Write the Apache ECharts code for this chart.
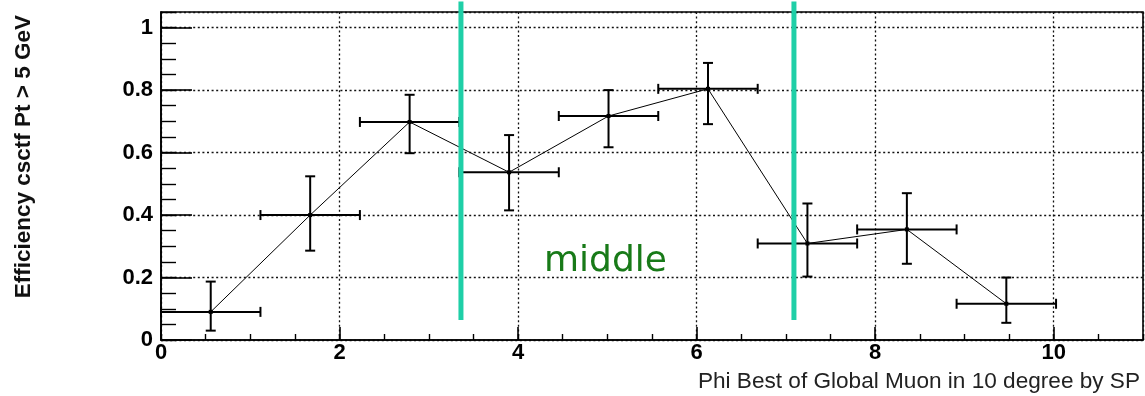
<!DOCTYPE html>
<html>
<head>
<meta charset="utf-8">
<script src="https://cdn.jsdelivr.net/npm/echarts@6/dist/echarts.min.js"></script>
<style>
  html, body { margin: 0; padding: 0; background: #fff; }
  #chart { width: 1145px; height: 396px; }
</style>
</head>
<body>
<div id="chart"></div>
<script>
// Phi bins (units of 10 degrees) and the measured efficiency per bin
const binCenters  = [0.557, 1.671, 2.785, 3.899, 5.013, 6.127, 7.241, 8.355, 9.469];
const binLow      = [0.000, 1.114, 2.228, 3.342, 4.456, 5.570, 6.684, 7.798, 8.912];
const binHigh     = [1.114, 2.228, 3.342, 4.456, 5.570, 6.684, 7.798, 8.912, 10.026];
const efficiency  = [0.090, 0.400, 0.698, 0.537, 0.717, 0.804, 0.309, 0.354, 0.116];
const effLow      = [0.030, 0.286, 0.598, 0.415, 0.617, 0.691, 0.203, 0.244, 0.055];
const effHigh     = [0.187, 0.524, 0.785, 0.656, 0.800, 0.887, 0.437, 0.470, 0.200];

// Boundaries of the "middle" phi region
const regionEdges = [3.36, 7.09];
const regionLabel = 'middle';

const xTitle = 'Phi Best of Global Muon in 10 degree by SP';
const yTitle = 'Efficiency csctf Pt > 5 GeV';

const points = binCenters.map((x, i) => [x, efficiency[i]]);
const errors = binCenters.map((x, i) => [x, efficiency[i], binLow[i], binHigh[i], effLow[i], effHigh[i]]);

const black = '#000';
const labelFont = { color: black, fontFamily: 'Liberation Sans', fontWeight: 'bold', fontSize: 22 };
const dotted = { type: [2, 2.6], color: '#111', width: 1.3 };

const chart = echarts.init(document.getElementById('chart'), null, { renderer: 'canvas' });

chart.setOption({
  animation: false,
  backgroundColor: '#fff',
  grid: { left: 161, right: 2, top: 12, bottom: 56, show: true, borderColor: black, borderWidth: 1.6, backgroundColor: 'transparent' },
  xAxis: [
    {
      type: 'value', min: 0, max: 11, interval: 2,
      axisLine: { lineStyle: { color: black, width: 1.6 } },
      axisTick: { inside: true, length: 13, lineStyle: { color: black, width: 1.6 } },
      axisLabel: Object.assign({ margin: 2, showMaxLabel: false }, labelFont),
      splitLine: { show: true, lineStyle: dotted }
    },
    {
      type: 'value', min: 0, max: 11, interval: 0.5, position: 'bottom',
      axisLine: { show: false },
      axisTick: { inside: true, length: 6, lineStyle: { color: black, width: 1.4 } },
      axisLabel: { show: false },
      splitLine: { show: false }
    }
  ],
  yAxis: [
    {
      type: 'value', min: 0, max: 1.05, interval: 0.2,
      axisLine: { show: true, lineStyle: { color: black, width: 1.6 } },
      axisTick: { show: true, inside: true, length: 31, lineStyle: { color: black, width: 1.6 } },
      axisLabel: Object.assign({ margin: 8, showMaxLabel: false }, labelFont),
      splitLine: { show: true, lineStyle: dotted }
    },
    {
      type: 'value', min: 0, max: 1.05, interval: 0.05, position: 'left',
      axisLine: { show: false },
      axisTick: { show: true, inside: true, length: 15, lineStyle: { color: black, width: 1.4 } },
      axisLabel: { show: false },
      splitLine: { show: false }
    }
  ],
  series: [
    {
      type: 'line',
      data: points,
      symbol: 'rect',
      symbolSize: 4,
      itemStyle: { color: black },
      lineStyle: { color: black, width: 1 },
      z: 3
    },
    {
      type: 'custom',
      data: errors,
      z: 4,
      renderItem: function (params, api) {
        const x = api.value(0), y = api.value(1);
        const pl = api.coord([api.value(2), y]);
        const pr = api.coord([api.value(3), y]);
        const pb = api.coord([x, api.value(4)]);
        const pt = api.coord([x, api.value(5)]);
        const cap = 5;
        const st = { stroke: black, lineWidth: 2 };
        const seg = (x1, y1, x2, y2) => ({ type: 'line', shape: { x1, y1, x2, y2 }, style: st });
        return {
          type: 'group',
          children: [
            seg(pl[0], pl[1], pr[0], pr[1]),
            seg(pl[0], pl[1] - cap, pl[0], pl[1] + cap),
            seg(pr[0], pr[1] - cap, pr[0], pr[1] + cap),
            seg(pb[0], pb[1], pt[0], pt[1]),
            seg(pb[0] - cap, pb[1], pb[0] + cap, pb[1]),
            seg(pt[0] - cap, pt[1], pt[0] + cap, pt[1])
          ]
        };
      }
    },
    {
      type: 'custom',
      data: regionEdges.map(x => [x]),
      clip: false,
      z: 10,
      renderItem: function (params, api) {
        const x = api.value(0);
        const lo = api.coord([x, 0.064]);
        const hi = api.coord([x, 1.084]);
        return {
          type: 'line',
          shape: { x1: lo[0], y1: lo[1], x2: hi[0], y2: hi[1] },
          style: { stroke: '#1fcfa7', lineWidth: 5 }
        };
      }
    }
  ],
  graphic: [
    {
      type: 'text', x: 24, y: 15, rotation: Math.PI / 2,
      style: { text: yTitle, align: 'right', verticalAlign: 'middle', fill: '#111',
               fontFamily: 'Liberation Sans', fontWeight: 'bold', fontSize: 22.5 }
    },
    {
      type: 'text', x: 1140, y: 382,
      style: { text: xTitle, align: 'right', verticalAlign: 'middle', fill: '#222',
               fontFamily: 'Liberation Sans', fontSize: 22.6 }
    },
    {
      type: 'text', x: 544, y: 262, z: 20,
      style: { text: regionLabel, align: 'left', verticalAlign: 'middle', fill: '#187a18',
               fontFamily: 'DejaVu Sans', fontSize: 36 }
    }
  ]
});
</script>
</body>
</html>
